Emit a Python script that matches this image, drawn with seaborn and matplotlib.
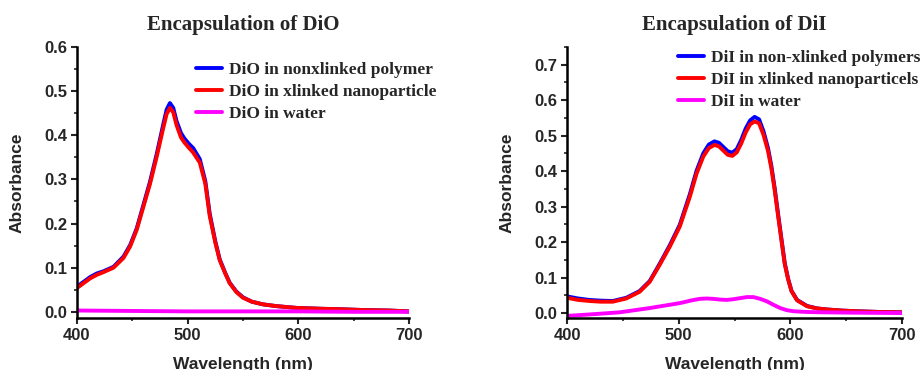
import numpy as np
import pandas as pd
import matplotlib
matplotlib.use("Agg")
import matplotlib.pyplot as plt
from matplotlib.ticker import MultipleLocator, FormatStrFormatter
import seaborn as sns

# ---------------- DiO data ----------------
dio_wl = [400, 406, 412, 418, 424, 433, 442, 448, 454, 460, 466, 472, 478, 481, 484, 487, 490, 494,
          497, 501, 505, 511, 516, 520, 525, 529, 534, 538, 544, 550, 558, 568, 580, 598, 620, 637,
          660, 682, 700]
dio_nonx = [0.057, 0.068, 0.079, 0.087, 0.092, 0.102, 0.125, 0.151, 0.189, 0.242, 0.295, 0.357, 0.425,
            0.458, 0.473, 0.462, 0.432, 0.405, 0.393, 0.381, 0.371, 0.346, 0.296, 0.222, 0.160, 0.119,
            0.088, 0.066, 0.046, 0.033, 0.023, 0.017, 0.013, 0.009, 0.007, 0.006, 0.004, 0.003, 0.001]
dio_xl = [0.054, 0.065, 0.076, 0.084, 0.090, 0.100, 0.122, 0.148, 0.186, 0.238, 0.290, 0.351, 0.417,
          0.448, 0.462, 0.452, 0.423, 0.395, 0.384, 0.372, 0.361, 0.338, 0.290, 0.217, 0.157, 0.117,
          0.087, 0.065, 0.045, 0.032, 0.023, 0.017, 0.013, 0.009, 0.007, 0.006, 0.004, 0.003, 0.001]
dio_water_wl = [400, 450, 500, 550, 600, 650, 700]
dio_water = [0.003, 0.002, 0.001, 0.001, 0.001, 0.000, 0.000]

# ---------------- DiI data ----------------
dii_wl = [400, 410, 420, 430, 441, 453, 465, 474, 483, 492, 501, 510, 516, 522, 527, 532, 536, 540,
          544, 548, 552, 556, 560, 564, 568, 572, 576, 580, 583, 586, 589, 592, 595, 598, 601, 606,
          615, 624, 633, 646, 660, 680, 700]
dii_nonx = [0.047, 0.041, 0.037, 0.035, 0.034, 0.043, 0.062, 0.090, 0.139, 0.191, 0.249, 0.335, 0.401,
            0.450, 0.475, 0.484, 0.480, 0.468, 0.456, 0.452, 0.462, 0.488, 0.520, 0.543, 0.553, 0.546,
            0.512, 0.465, 0.415, 0.352, 0.280, 0.210, 0.141, 0.097, 0.063, 0.037, 0.020, 0.013, 0.010,
            0.007, 0.005, 0.003, 0.002]
dii_xl = [0.043, 0.037, 0.034, 0.032, 0.032, 0.041, 0.060, 0.088, 0.136, 0.187, 0.244, 0.328, 0.393,
          0.441, 0.465, 0.474, 0.470, 0.458, 0.446, 0.443, 0.453, 0.478, 0.509, 0.532, 0.540, 0.535,
          0.502, 0.457, 0.408, 0.346, 0.275, 0.206, 0.138, 0.095, 0.062, 0.036, 0.019, 0.013, 0.010,
          0.007, 0.005, 0.003, 0.002]
dii_water_wl = [400, 420, 447, 474, 501, 512, 519, 525, 531, 537, 543, 549, 555, 561, 567, 573, 579,
                585, 591, 597, 603, 615, 630, 660, 700]
dii_water = [-0.008, -0.004, 0.002, 0.014, 0.028, 0.036, 0.040, 0.041, 0.040, 0.038, 0.037, 0.039,
             0.042, 0.045, 0.045, 0.040, 0.033, 0.023, 0.014, 0.008, 0.005, 0.003, 0.002, 0.001, 0.000]

dio_labels = ["DiO in nonxlinked polymer", "DiO in xlinked nanoparticle", "DiO in water"]
dii_labels = ["DiI in non-xlinked polymers", "DiI in xlinked nanoparticels", "DiI in water"]
colors = ["#0000ff", "#ff0000", "#ff00ff"]

sns.set_style("ticks")
plt.rcParams["font.family"] = ["Liberation Sans", "DejaVu Sans"]

fig = plt.figure(figsize=(9.22, 3.70), dpi=100)
ax1 = fig.add_axes([0.0835, 0.1405, 0.360, 0.7325])
ax2 = fig.add_axes([0.615, 0.1405, 0.3633, 0.7325])


def build(wl, a, b, wwl, w, labels):
    frames = [
        pd.DataFrame({"wl": wl, "abs": a, "series": labels[0]}),
        pd.DataFrame({"wl": wl, "abs": b, "series": labels[1]}),
        pd.DataFrame({"wl": wwl, "abs": w, "series": labels[2]}),
    ]
    return pd.concat(frames, ignore_index=True)


df1 = build(dio_wl, dio_nonx, dio_xl, dio_water_wl, dio_water, dio_labels)
df2 = build(dii_wl, dii_nonx, dii_xl, dii_water_wl, dii_water, dii_labels)

serif = {"family": ["Liberation Serif", "DejaVu Serif"], "weight": "bold"}

for ax, df, labels, ylim, title, leg_anchor in [
    (ax1, df1, dio_labels, (-0.014, 0.6), "Encapsulation of DiO", (196 / 922, 1 - 62 / 370)),
    (ax2, df2, dii_labels, (-0.014, 0.75), "Encapsulation of DiI", (678 / 922, 1 - 50 / 370)),
]:
    sns.lineplot(data=df, x="wl", y="abs", hue="series", hue_order=labels,
                 palette=dict(zip(labels, colors)), linewidth=2.8, ax=ax,
                 sort=False, estimator=None)
    for ln in ax.get_lines():
        ln.set_solid_joinstyle("round")
        ln.set_solid_capstyle("round")
    ax.set_xlim(400, 700)
    ax.set_ylim(*ylim)
    ax.xaxis.set_major_locator(MultipleLocator(100))
    ax.xaxis.set_minor_locator(MultipleLocator(50))
    ax.yaxis.set_major_locator(MultipleLocator(0.1))
    ax.yaxis.set_minor_locator(MultipleLocator(0.05))
    ax.yaxis.set_major_formatter(FormatStrFormatter("%.1f"))
    for s in ["top", "right"]:
        ax.spines[s].set_visible(False)
    for s in ["left", "bottom"]:
        ax.spines[s].set_linewidth(1.8)
        ax.spines[s].set_color("black")
    ax.tick_params(which="major", direction="out", length=4, width=1.5, labelsize=12, pad=3)
    ax.tick_params(which="minor", direction="out", length=2.5, width=1.2)
    for lab in ax.get_xticklabels() + ax.get_yticklabels():
        lab.set_fontweight("bold")
    ax.set_xlabel("Wavelength (nm)", fontsize=12.5, fontweight="bold", labelpad=10)
    ax.set_ylabel("Absorbance", fontsize=12.5, fontweight="bold", labelpad=14)
    ax.set_title(title, fontdict=dict(serif, size=15), pad=12)
    leg = ax.legend(loc="upper left", bbox_to_anchor=leg_anchor, bbox_transform=fig.transFigure,
                    frameon=False, prop=dict(serif, size=12.5), handlelength=1.5,
                    handletextpad=0.4, labelspacing=0.34, borderaxespad=0, borderpad=0)
    for h in leg.get_lines():
        h.set_linewidth(2.8)

fig.savefig("out.png", dpi=100)
